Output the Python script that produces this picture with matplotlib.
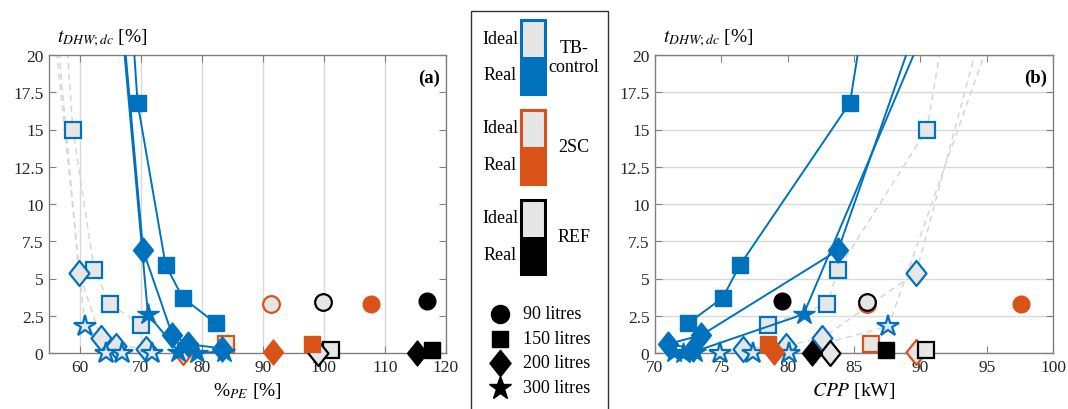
import numpy as np
import matplotlib
matplotlib.use("Agg")
import matplotlib.pyplot as plt
from matplotlib.patches import Rectangle
from matplotlib.path import Path

plt.rcParams["font.family"] = ["Liberation Serif", "DejaVu Serif"]
plt.rcParams["mathtext.fontset"] = "stix"

# tick labels
y_ticks = [0, 2.5, 5, 7.5, 10, 12.5, 15, 17.5, 20]
y_ticklabels = ["0", "2.5", "5", "7.5", "10", "12.5", "15", "17.5", "20"]
pe_ticks = [60, 70, 80, 90, 100, 110, 120]
cpp_ticks = [70, 75, 80, 85, 90, 95, 100]

# --- TB-control, real (solid lines), first point is off the top of the plot
tb_real_150_t = [23.5, 16.8, 5.9, 3.7, 2.0]
tb_real_150_pe = [68.4, 69.5, 74.1, 76.9, 82.3]
tb_real_150_cpp = [85.9, 84.7, 76.4, 75.1, 72.5]

tb_real_200_t = [24.0, 6.9, 1.2, 0.6, 0.3]
tb_real_200_pe = [66.7, 70.4, 75.2, 77.7, 83.4]
tb_real_200_cpp = [90.5, 83.8, 73.5, 71.0, 72.9]

tb_real_300_t = [24.0, 2.6, 0.1, 0.0, 0.1]
tb_real_300_pe = [66.5, 71.2, 76.2, 79.2, 83.6]
tb_real_300_cpp = [91.4, 81.2, 73.0, 72.1, 71.4]

# --- TB-control, ideal (dashed grey lines)
tb_ideal_150_t = [24.0, 15.0, 5.6, 3.3, 1.9]
tb_ideal_150_pe = [57.4, 58.9, 62.4, 65.0, 70.0]
tb_ideal_150_cpp = [92.2, 90.5, 83.8, 83.0, 78.5]

tb_ideal_200_t = [24.0, 5.4, 1.0, 0.5, 0.3]
tb_ideal_200_pe = [55.8, 59.9, 63.5, 65.9, 70.8]
tb_ideal_200_cpp = [95.3, 89.7, 82.6, 79.9, 76.6]

tb_ideal_300_t = [24.0, 1.8, 0.0, 0.0, 0.0]
tb_ideal_300_pe = [55.3, 60.9, 64.3, 66.9, 71.8]
tb_ideal_300_cpp = [96.4, 87.6, 80.1, 77.4, 74.9]

# --- 2SC and REF single points: order 90, 150, 200 litres
sc_real_t = [3.3, 0.6, 0.1]
sc_real_pe = [107.8, 98.1, 91.6]
sc_real_cpp = [97.6, 78.5, 79.0]
sc_ideal_t = [3.3, 0.6, 0.1]
sc_ideal_pe = [91.4, 83.9, 76.9]
sc_ideal_cpp = [86.0, 86.3, 89.7]

ref_real_t = [3.5, 0.2, 0.0]
ref_real_pe = [116.9, 117.7, 115.3]
ref_real_cpp = [79.6, 87.4, 81.8]
ref_ideal_t = [3.4, 0.2, 0.0]
ref_ideal_pe = [99.8, 101.2, 99.1]
ref_ideal_cpp = [86.0, 90.4, 83.2]

BLUE = "#0072BD"
ORANGE = "#D95319"
BLACK = "#000000"
IDEAL_FILL = "#E6E6E6"
DASH = "#D6D6D6"
FRAME = "#808080"

# MATLAB-like diamond, a bit taller than wide
DIAMOND = Path([(0, 1), (0.8, 0), (0, -1), (-0.8, 0), (0, 1)],
               [Path.MOVETO, Path.LINETO, Path.LINETO, Path.LINETO, Path.CLOSEPOLY])
MSYM = {"o": "o", "s": "s", "d": DIAMOND, "*": "*"}
MARK = {"o": 12, "s": 11, "d": 18, "*": 16}
single_markers = ["o", "s", "d"]


def markers(ax, x, y, m, color, ideal, z=5):
    x = np.asarray(x)
    y = np.asarray(y)
    keep = y <= 20
    ax.plot(x[keep], y[keep], ls="none", marker=MSYM[m], ms=MARK[m],
            mfc=IDEAL_FILL if ideal else color, mec=color,
            mew=1.6 if ideal else 1.0, clip_on=False, zorder=z)


def panel(ax, key):
    ideal_sets = [(tb_ideal_150_t, globals()["tb_ideal_150_" + key], "s"),
                  (tb_ideal_200_t, globals()["tb_ideal_200_" + key], "d"),
                  (tb_ideal_300_t, globals()["tb_ideal_300_" + key], "*")]
    real_sets = [(tb_real_150_t, globals()["tb_real_150_" + key], "s"),
                 (tb_real_200_t, globals()["tb_real_200_" + key], "d"),
                 (tb_real_300_t, globals()["tb_real_300_" + key], "*")]
    for t, x, m in ideal_sets:
        ax.plot(x, t, ls=(0, (4, 3)), color=DASH, lw=1.1, zorder=2)
    for t, x, m in ideal_sets:
        markers(ax, x, t, m, BLUE, True, z=4)

    singles = [(sc_ideal_t, globals()["sc_ideal_" + key], ORANGE, True),
               (ref_ideal_t, globals()["ref_ideal_" + key], BLACK, True),
               (sc_real_t, globals()["sc_real_" + key], ORANGE, False),
               (ref_real_t, globals()["ref_real_" + key], BLACK, False)]
    for t, x, c, ideal in singles:
        for xi, ti, m in zip(x, t, single_markers):
            markers(ax, [xi], [ti], m, c, ideal, z=4)

    for t, x, m in real_sets:
        ax.plot(x, t, "-", color=BLUE, lw=1.4, zorder=5)
        markers(ax, x, t, m, BLUE, False, z=6)

    ax.set_ylim(0, 20)
    ax.set_yticks(y_ticks)
    ax.set_yticklabels(y_ticklabels)
    ax.tick_params(direction="in", top=True, right=True, length=5,
                   color=FRAME, labelcolor="#262626", labelsize=12.5, pad=4)
    for s in ax.spines.values():
        s.set_color(FRAME)
        s.set_linewidth(1.0)
    ax.text(0.02, 1.025, r"$t_{DHW;dc}$ [%]", transform=ax.transAxes,
            fontsize=14, ha="left", va="bottom")


fig = plt.figure(figsize=(10.68, 4.10), dpi=100)
axa = fig.add_axes([49 / 1068, 56 / 410, 397 / 1068, 298 / 410])
axb = fig.add_axes([655 / 1068, 56 / 410, 398 / 1068, 298 / 410])

panel(axa, "pe")
axa.set_xlim(55, 120)
axa.set_xticks(pe_ticks)
axa.grid(axis="x", color="#D9D9D9", lw=1.0, zorder=0)
axa.set_xlabel(r"%$_{PE}$ [%]", fontsize=14, labelpad=4)
axa.text(0.985, 0.955, "(a)", transform=axa.transAxes, ha="right", va="top",
         fontsize=13.5, fontweight="bold")

panel(axb, "cpp")
axb.set_xlim(70, 100)
axb.set_xticks(cpp_ticks)
axb.grid(axis="y", color="#D9D9D9", lw=1.0, zorder=0)
axb.set_xlabel(r"$CPP$ [kW]", fontsize=14, labelpad=4)
axb.text(0.985, 0.955, "(b)", transform=axb.transAxes, ha="right", va="top",
         fontsize=13.5, fontweight="bold")
axa.set_axisbelow(True)
axb.set_axisbelow(True)

# legend drawn in pixel coordinates
lax = fig.add_axes([0, 0, 1, 1])
lax.set_xlim(0, 1068)
lax.set_ylim(410, 0)
lax.axis("off")
lax.add_patch(Rectangle((471, 12), 137, 405, fill=False, ec="#333333", lw=1.0))

groups = [("TB-\ncontrol", BLUE, 20), ("2SC", ORANGE, 110), ("REF", BLACK, 200)]
for name, c, top in groups:
    lax.add_patch(Rectangle((521, top + 1), 24, 37, fc=IDEAL_FILL, ec="none"))
    lax.add_patch(Rectangle((521, top + 38), 24, 37, fc=c, ec="none"))
    lax.add_patch(Rectangle((521, top + 1), 24, 74, fill=False, ec=c, lw=2.2))
    lax.text(500, top + 19, "Ideal", ha="center", va="center", fontsize=13)
    lax.text(500, top + 56, "Real", ha="center", va="center", fontsize=13)
    lax.text(574, top + 38, name, ha="center", va="center", fontsize=13,
             linespacing=1.1)

size_labels = ["90 litres", "150 litres", "200 litres", "300 litres"]
size_markers = ["o", "s", "d", "*"]
for i, (lab, m) in enumerate(zip(size_labels, size_markers)):
    yy = 315 + i * 24.5
    lax.plot([500], [yy], marker=MSYM[m], ms=MARK[m] + 1, color="black", ls="none")
    lax.text(523, yy, lab, ha="left", va="center", fontsize=13)

fig.savefig("out.png", dpi=100)
